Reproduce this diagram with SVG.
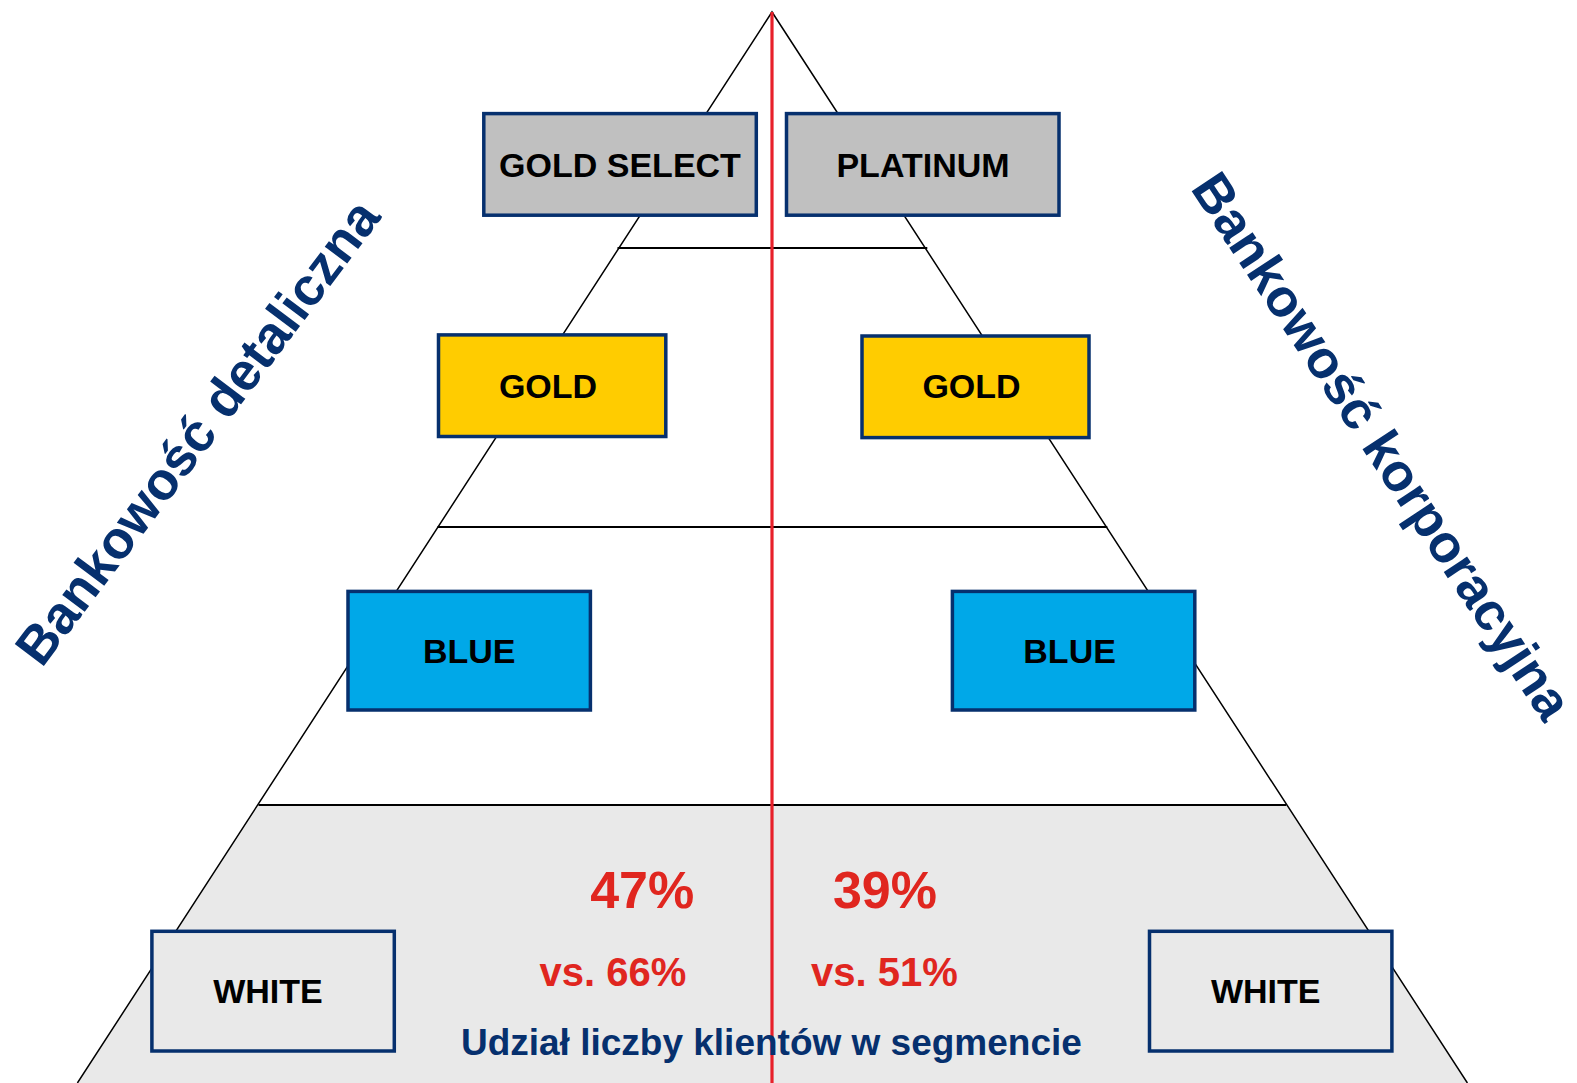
<svg xmlns="http://www.w3.org/2000/svg" width="1577" height="1083" viewBox="0 0 1577 1083">
<style>
.box{stroke:#06306e;stroke-width:3.5}
.lbl{font-family:"Liberation Sans",Arial,sans-serif;font-weight:bold;font-size:34px;fill:#000;text-anchor:middle}
.pct{font-family:"Liberation Sans",Arial,sans-serif;font-weight:bold;fill:#e0261f;text-anchor:middle}
.navy{font-family:"Liberation Sans",Arial,sans-serif;font-weight:bold;fill:#06306e;text-anchor:middle}
.edge{stroke:#000;stroke-width:1.5;fill:none}
.tier{stroke:#000;stroke-width:2;fill:none}
</style>
<rect width="1577" height="1083" fill="#fff"/>
<g id="pyramid">
<polygon points="258.5,805.6 1286.3,805.6 1467.4,1083 77.4,1083" fill="#e9e9e9"/>
<polyline class="edge" points="77.4,1083 772,12 1467.4,1083"/>
<line class="tier" x1="617.5" y1="248" x2="927.3" y2="248"/>
<line class="tier" x1="437.5" y1="527" x2="1107.3" y2="527"/>
<line class="tier" x1="258.5" y1="805" x2="1286.3" y2="805"/>
</g>
<g id="connectors">
<line x1="772" y1="12" x2="772" y2="1083" stroke="#e8202a" stroke-width="3.2"/>
</g>
<g id="gold-select">
<rect class="box" x="483.8" y="113.6" width="272.5" height="101.6" fill="#c0c0c0"/>
<text class="lbl" x="620" y="177">GOLD SELECT</text>
</g>
<g id="platinum">
<rect class="box" x="786.5" y="113.6" width="272.5" height="101.6" fill="#c0c0c0"/>
<text class="lbl" x="923" y="177">PLATINUM</text>
</g>
<g id="gold-left">
<rect class="box" x="438.5" y="334.9" width="227.3" height="101.6" fill="#ffcc00"/>
<text class="lbl" x="548" y="398">GOLD</text>
</g>
<g id="gold-right">
<rect class="box" x="862" y="336" width="227" height="101.6" fill="#ffcc00"/>
<text class="lbl" x="971.5" y="398">GOLD</text>
</g>
<g id="blue-left">
<rect class="box" x="348" y="591.4" width="242.4" height="118.6" fill="#00a8e8"/>
<text class="lbl" x="469.2" y="662.5">BLUE</text>
</g>
<g id="blue-right">
<rect class="box" x="952.4" y="591.4" width="242.4" height="118.6" fill="#00a8e8"/>
<text class="lbl" x="1069.6" y="662.5">BLUE</text>
</g>
<g id="white-left">
<rect class="box" x="151.9" y="931.3" width="242.4" height="119.7" fill="#e9e9e9"/>
<text class="lbl" x="268" y="1003">WHITE</text>
</g>
<g id="white-right">
<rect class="box" x="1149.5" y="931.3" width="242.4" height="119.7" fill="#e9e9e9"/>
<text class="lbl" x="1265.7" y="1003">WHITE</text>
</g>
<g id="stats">
<text class="pct" x="642.2" y="908" font-size="52">47%</text>
<text class="pct" x="885" y="908" font-size="52">39%</text>
<text class="pct" x="613" y="986" font-size="40">vs. 66%</text>
<text class="pct" x="884.5" y="986" font-size="40">vs. 51%</text>
<text class="navy" x="771.4" y="1055" font-size="37">Udział liczby klientów w segmencie</text>
</g>
<g id="titles">
<text class="navy" font-size="53" transform="translate(212,443) rotate(-53)">Bankowość detaliczna</text>
<text class="navy" font-size="53" transform="translate(1367,456) rotate(56.5)">Bankowość korporacyjna</text>
</g>
</svg>
